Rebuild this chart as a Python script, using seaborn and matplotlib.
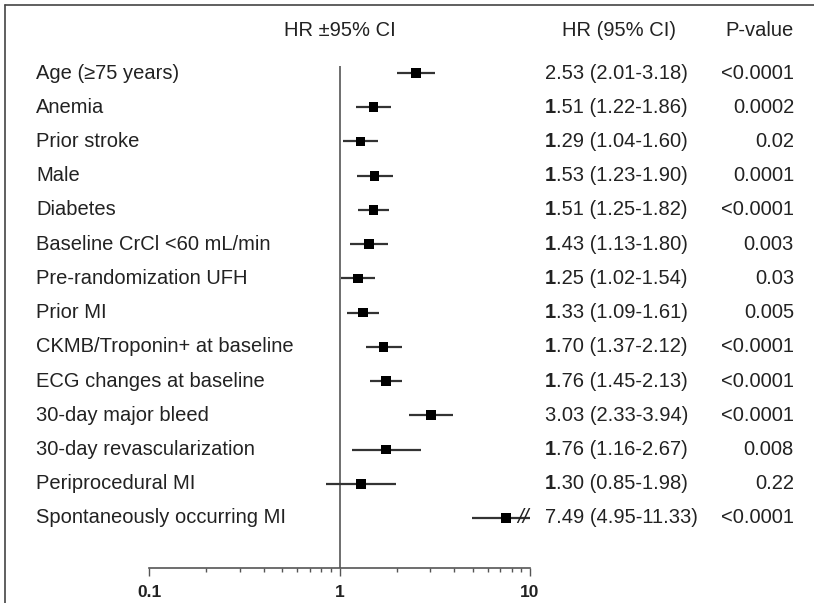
import matplotlib
matplotlib.use("Agg")
import matplotlib.pyplot as plt
import matplotlib.transforms as mtransforms
from matplotlib.lines import Line2D
from matplotlib.ticker import FixedLocator, FixedFormatter, LogLocator, NullFormatter
import pandas as pd
import seaborn as sns

# ---------------------------------------------------------------
# Data
# ---------------------------------------------------------------
factors = [
    "Age (\u226575 years)",
    "Anemia",
    "Prior stroke",
    "Male",
    "Diabetes",
    "Baseline CrCl <60 mL/min",
    "Pre-randomization UFH",
    "Prior MI",
    "CKMB/Troponin+ at baseline",
    "ECG changes at baseline",
    "30-day major bleed",
    "30-day revascularization",
    "Periprocedural MI",
    "Spontaneously occurring MI",
]
hr = [2.53, 1.51, 1.29, 1.53, 1.51, 1.43, 1.25, 1.33, 1.70, 1.76, 3.03, 1.76, 1.30, 7.49]
ci_low = [2.01, 1.22, 1.04, 1.23, 1.25, 1.13, 1.02, 1.09, 1.37, 1.45, 2.33, 1.16, 0.85, 4.95]
ci_high = [3.18, 1.86, 1.60, 1.90, 1.82, 1.80, 1.54, 1.61, 2.12, 2.13, 3.94, 2.67, 1.98, 11.33]
hr_text = [
    "2.53 (2.01-3.18)", "1.51 (1.22-1.86)", "1.29 (1.04-1.60)", "1.53 (1.23-1.90)",
    "1.51 (1.25-1.82)", "1.43 (1.13-1.80)", "1.25 (1.02-1.54)", "1.33 (1.09-1.61)",
    "1.70 (1.37-2.12)", "1.76 (1.45-2.13)", "3.03 (2.33-3.94)", "1.76 (1.16-2.67)",
    "1.30 (0.85-1.98)", "7.49 (4.95-11.33)",
]
p_values = [
    "<0.0001", "0.0002", "0.02", "0.0001", "<0.0001", "0.003", "0.03",
    "0.005", "<0.0001", "<0.0001", "<0.0001", "0.008", "0.22", "<0.0001",
]
x_ticks = [0.1, 1, 10]
x_tick_labels = ["0.1", "1", "10"]

# ---------------------------------------------------------------
# Style
# ---------------------------------------------------------------
sns.set_theme(style="white")
plt.rcParams["font.family"] = ["Liberation Sans", "DejaVu Sans"]

TEXT_COLOR = "#222222"
LINE_COLOR = "#555555"
FONT_SIZE = 14.5

W, H = 814, 603
fig = plt.figure(figsize=(W / 100, H / 100), dpi=100)

# forest panel: 0.1 -> x=149 px, 10 -> x=530 px, axis line at y=568 px
ax = fig.add_axes([149 / W, (H - 568) / H, 381 / W, 508 / H])

df = pd.DataFrame({
    "factor": factors,
    "hr": hr,
    "low": ci_low,
    "high": ci_high,
    "row": range(len(factors)),
})

x_max = x_ticks[-1]
ax.hlines(df["row"], df["low"], df["high"].clip(upper=x_max),
          color="#333333", linewidth=1.6, zorder=2)
sns.scatterplot(data=df, x="hr", y="row", marker="s", s=48, color="black",
                edgecolor="none", ax=ax, legend=False, zorder=3)

# break marks where the CI runs off the scale
for _, r in df[df["high"] > x_max].iterrows():
    ax.annotate("//", xy=(x_max, r["row"]), xytext=(-7, 0),
                textcoords="offset pixels", ha="center", va="center",
                fontsize=15, color="#222222", style="italic",
                annotation_clip=False)

ax.set_xscale("log")
ax.set_xlim(x_ticks[0], x_ticks[-1])
row_px = 34.23
ax.set_ylim(13 + (568 - 518) / row_px, -(73 - 60) / row_px)
ax.vlines(1, -(73 - 66) / row_px, 13 + (568 - 518) / row_px,
          color=LINE_COLOR, linewidth=1.2, zorder=1)

ax.xaxis.set_major_locator(FixedLocator(x_ticks))
ax.xaxis.set_major_formatter(FixedFormatter(x_tick_labels))
ax.xaxis.set_minor_locator(LogLocator(base=10, subs=range(2, 10)))
ax.xaxis.set_minor_formatter(NullFormatter())
ax.tick_params(axis="x", which="major", direction="out", length=6, width=1,
               color=LINE_COLOR, pad=6, labelsize=12.5, labelcolor=TEXT_COLOR,
               bottom=True)
ax.tick_params(axis="x", which="minor", direction="out", length=3, width=1,
               color=LINE_COLOR, bottom=True)
for lab in ax.get_xticklabels():
    lab.set_fontweight("bold")
ax.set_yticks([])
ax.set_xlabel("")
ax.set_ylabel("")
for side in ["left", "right", "top"]:
    ax.spines[side].set_visible(False)
ax.spines["bottom"].set_color(LINE_COLOR)
ax.spines["bottom"].set_linewidth(1.2)
ax.patch.set_alpha(0)

# ---------------------------------------------------------------
# Text columns
# ---------------------------------------------------------------
trans = mtransforms.blended_transform_factory(fig.transFigure, ax.transData)
for i, row in df.iterrows():
    ax.text(36 / W, row["row"], row["factor"], transform=trans, ha="left",
            va="center", fontsize=FONT_SIZE, color=TEXT_COLOR)
    label = hr_text[i]
    if label.startswith("1"):
        t1 = ax.text(545 / W, row["row"], label[0], transform=trans, ha="left",
                     va="center", fontsize=FONT_SIZE, color=TEXT_COLOR,
                     fontweight="bold")
        ax.annotate(label[1:], xy=(1, 0.5), xycoords=t1, ha="left",
                    va="center", fontsize=FONT_SIZE, color=TEXT_COLOR)
    else:
        ax.text(545 / W, row["row"], label, transform=trans, ha="left",
                va="center", fontsize=FONT_SIZE, color=TEXT_COLOR)
    ax.text(794 / W, row["row"], p_values[i], transform=trans, ha="right",
            va="center", fontsize=FONT_SIZE, color=TEXT_COLOR)

header_y = 1 - 30 / H
fig.text(340 / W, header_y, "HR \u00b195% CI", ha="center", va="center",
         fontsize=FONT_SIZE, color=TEXT_COLOR)
fig.text(562 / W, header_y, "HR (95% CI)", ha="left", va="center",
         fontsize=FONT_SIZE, color=TEXT_COLOR)
fig.text(794 / W, header_y, "P-value", ha="right", va="center",
         fontsize=FONT_SIZE, color=TEXT_COLOR)

# outer frame (cropped at right and bottom in the original)
fig.add_artist(Line2D([5 / W, 5 / W], [0, 1 - 5 / H], transform=fig.transFigure,
                      color="#444444", linewidth=1.2))
fig.add_artist(Line2D([5 / W, 1], [1 - 5 / H, 1 - 5 / H], transform=fig.transFigure,
                      color="#444444", linewidth=1.2))

fig.savefig("out.png", dpi=100)
